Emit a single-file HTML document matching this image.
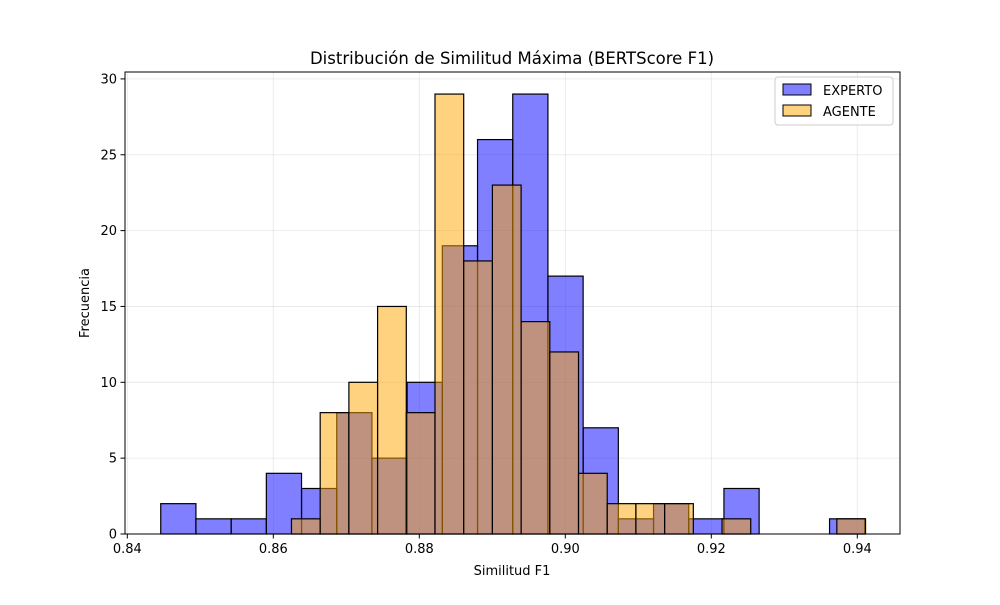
<!DOCTYPE html>
<html><head><meta charset="utf-8"><style>
body{margin:0;background:#fff;}
svg text{font-family:"DejaVu Sans","Liberation Sans",sans-serif;fill:#000;}
</style></head><body>
<svg id="chart" width="1000" height="600" viewBox="0 0 1000 600" xmlns="http://www.w3.org/2000/svg">
<rect width="1000" height="600" fill="#fff"/>
<g id="grid"></g>
<g id="bars"></g>
<rect x="125" y="72" width="775" height="462" fill="none" stroke="#000" stroke-width="1"/>
<g id="axes"></g>
<text x="512" y="64" font-size="16.5" text-anchor="middle">Distribución de Similitud Máxima (BERTScore F1)</text>
<text x="512" y="575" font-size="13" text-anchor="middle">Similitud F1</text>
<text x="89" y="303" font-size="13" text-anchor="middle" transform="rotate(-90 89 303)">Frecuencia</text>
<g>
<rect x="775" y="77" width="118" height="48" rx="3" fill="#fff" fill-opacity="0.8" stroke="#ccc"/>
<g>
<rect x="783" y="84" width="28" height="11" fill="#8080ff" stroke="#000"/>
<text x="823" y="95" font-size="13">EXPERTO</text></g>
<g>
<rect x="783" y="105" width="28" height="11" fill="#ffd280" stroke="#000"/>
<text x="823" y="116" font-size="13">AGENTE</text></g>
</g>
</svg>
<script>
const expertoStart = 0.84458;
const expertoWidth = 0.004822;
const expertoCounts = [2,1,1,4,3,8,5,10,19,26,29,17,7,1,2,1,3,0,0,1];
const agenteStart = 0.86249;
const agenteWidth = 0.003932;
const agenteCounts = [1,8,10,15,8,29,18,23,14,12,4,2,2,2,0,1,0,0,0,1];
const xTicks = [0.84,0.86,0.88,0.90,0.92,0.94];
const xTickLabels = ["0.84","0.86","0.88","0.90","0.92","0.94"];
const yTicks = [0,5,10,15,20,25,30];

const NS="http://www.w3.org/2000/svg";
function xs(v){return 127.3+(v-0.84)*7300;}
function ys(v){return 534-v*15.17;}
function mk(tag,attrs,parent){const e=document.createElementNS(NS,tag);for(const k in attrs)e.setAttribute(k,attrs[k]);parent.appendChild(e);return e;}
const grid=document.getElementById('grid'),bars=document.getElementById('bars'),axes=document.getElementById('axes');
xTicks.forEach((t,i)=>{
  const x=xs(t);
  const g=mk('line',{x1:x,x2:x,y1:72,y2:534,stroke:'#b0b0b0','stroke-opacity':0.3,'stroke-width':0.8},grid);
  
  
  const tk=mk('line',{x1:x,x2:x,y1:534,y2:538.5,stroke:'#000'},axes);
  
  
  const tx=mk('text',{x:x,y:553,'font-size':13,'text-anchor':'middle'},axes);
  tx.textContent=xTickLabels[i];
  
  
});
yTicks.forEach(t=>{
  const y=ys(t);
  const g=mk('line',{x1:125,x2:900,y1:y,y2:y,stroke:'#b0b0b0','stroke-opacity':0.3,'stroke-width':0.8},grid);
  
  
  const tk=mk('line',{x1:120.5,x2:125,y1:y,y2:y,stroke:'#000'},axes);
  
  
  const tx=mk('text',{x:117,y:y+4.5,'font-size':13,'text-anchor':'end'},axes);
  tx.textContent=String(t);
  
  
});
function drawSeries(start,w,counts,color,name){
  counts.forEach((c,i)=>{
    if(c<=0)return;
    const x0=xs(start+i*w),x1=xs(start+(i+1)*w);
    const r=mk('rect',{x:x0,y:ys(c),width:x1-x0,height:ys(0)-ys(c),fill:color,'fill-opacity':0.5,stroke:'#000','stroke-width':1.2},bars);
    
    
  });
}
drawSeries(expertoStart,expertoWidth,expertoCounts,'#0000ff','experto');
drawSeries(agenteStart,agenteWidth,agenteCounts,'#ffa500','agente');
</script>
</body></html>
